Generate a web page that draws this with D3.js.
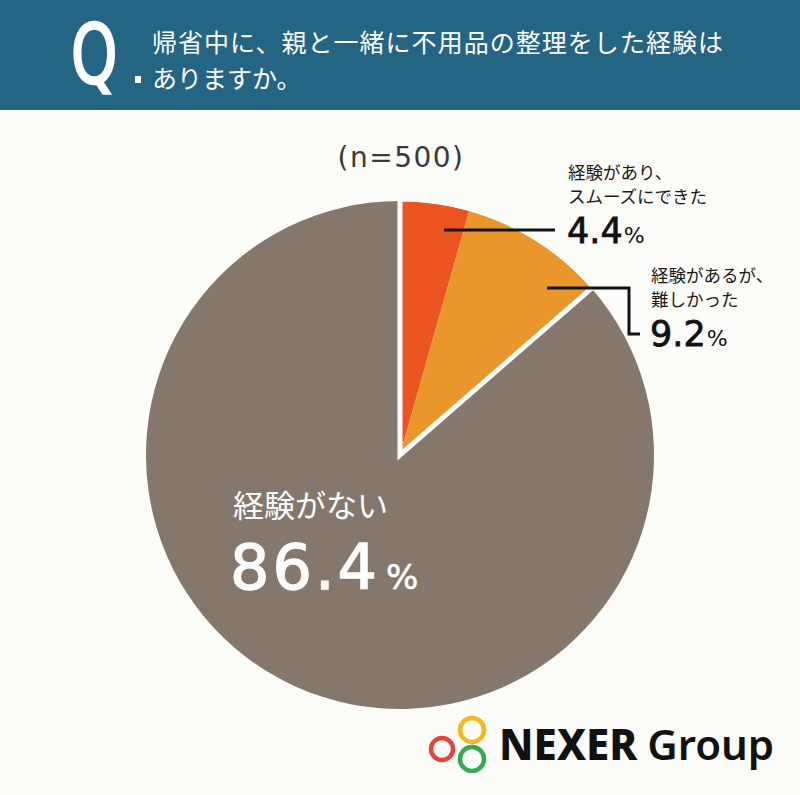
<!DOCTYPE html>
<html>
<head>
<meta charset="utf-8">
<script src="https://cdn.jsdelivr.net/npm/d3@7"></script>
<style>
  html, body { margin: 0; padding: 0; background: #fcfcf8; }
  svg { display: block; }
</style>
</head>
<body>
<script>
// data
const categories = ["経験があり、スムーズにできた", "経験があるが、難しかった", "経験がない"];
const values = [4.4, 9.2, 86.4];
const colors = ["#ec5521", "#e9972b", "#85776c"];
const labelLines = [["経験があり、", "スムーズにできた"], ["経験があるが、", "難しかった"], ["経験がない"]];
const title = ["帰省中に、親と一緒に不用品の整理をした経験は", "ありますか。"];
const sampleNote = "(n=500)";

const W = 800, H = 795;
const cx = 400, cy = 455, R = 254;
const jp = "'Noto Sans CJK JP', sans-serif";
const num = "'DejaVu Sans', sans-serif";

const svg = d3.select("body").append("svg")
  .attr("width", W)
  .attr("height", H);

svg.append("rect").attr("width", W).attr("height", H).attr("fill", "#fcfcf8");

// header band
svg.append("rect").attr("width", W).attr("height", 110).attr("fill", "#246584");
svg.append("text")
  .attr("x", 0).attr("y", 0)
  .attr("font-family", "'DejaVu Sans', sans-serif")
  .attr("font-size", 82)
  .attr("fill", "#fff")
  .attr("stroke", "#fff")
  .attr("stroke-width", 2.5)
  .attr("transform", "translate(71,83) scale(0.72,1)")
  .text("Q");
svg.append("rect").attr("x", 135).attr("y", 76).attr("width", 6).attr("height", 7).attr("fill", "#fff");
svg.selectAll(".title")
  .data(title)
  .enter().append("text")
  .attr("class", "title")
  .attr("x", 152)
  .attr("y", (d, i) => 52 + i * 36)
  .attr("font-family", jp)
  .attr("font-size", 25)
  .attr("fill", "#fff")
  .attr("textLength", (d, i) => i === 0 ? 571 : null)
  .text(d => d);

svg.append("text")
  .attr("x", 401).attr("y", 167)
  .attr("text-anchor", "middle")
  .attr("font-family", num)
  .attr("font-size", 28)
  .attr("letter-spacing", 1.5)
  .attr("fill", "#3a3a3a")
  .text(sampleNote);

// pie
const pie = d3.pie().sort(null).value(d => d);
const arcs = pie(values);
const arc = d3.arc().innerRadius(0).outerRadius(R);
const g = svg.append("g").attr("transform", `translate(${cx},${cy})`);

g.selectAll("path.slice")
  .data(arcs)
  .enter().append("path")
  .attr("class", "slice")
  .attr("d", arc)
  .attr("fill", (d, i) => colors[i]);

// white border around the "experienced" group
const grp = d3.arc().innerRadius(0).outerRadius(R + 2)
  .startAngle(0).endAngle(arcs[1].endAngle);
g.append("path")
  .attr("d", grp())
  .attr("fill", "none")
  .attr("stroke", "#fff")
  .attr("stroke-width", 5)
  .attr("stroke-linejoin", "miter");
g.append("circle").attr("r", R + 3).attr("fill", "none").attr("stroke", "#fcfcf8").attr("stroke-width", 4);

// leader lines
svg.append("path")
  .attr("d", "M444,230H555")
  .attr("stroke", "#111").attr("stroke-width", 3).attr("fill", "none");
svg.append("path")
  .attr("d", "M547,288H629V334H640")
  .attr("stroke", "#111").attr("stroke-width", 3).attr("fill", "none");

function outerLabel(x, y0, i) {
  const t = svg.append("text")
    .attr("x", x).attr("y", y0)
    .attr("fill", "#1a1a1a");
  labelLines[i].forEach((s, k) => {
    t.append("tspan")
      .attr("x", x).attr("dy", k === 0 ? 0 : 24)
      .attr("font-family", jp)
      .attr("font-size", 17.5)
      .text(s);
  });
  t.append("tspan")
    .attr("x", x - 1).attr("dy", 40)
    .attr("font-family", num)
    .attr("font-size", 35)
    .attr("fill", "#111")
    .attr("stroke", "#111")
    .attr("stroke-width", 0.8)
    .text(values[i].toFixed(1));
  t.append("tspan")
    .attr("font-family", num)
    .attr("dx", 1)
    .attr("font-size", 22)
    .attr("fill", "#111")
    .text("%");
}
outerLabel(568, 179, 0);
outerLabel(651, 282, 1);

const inner = svg.append("text")
  .attr("x", 233).attr("y", 517)
  .attr("fill", "#fff");
inner.append("tspan")
  .attr("font-family", jp)
  .attr("font-size", 31)
  .text(labelLines[2][0]);
inner.append("tspan")
  .attr("x", 230).attr("dy", 72)
  .attr("font-family", num)
  .attr("font-size", 62)
  .attr("letter-spacing", 3)
  .attr("stroke", "#fff")
  .attr("stroke-width", 1.4)
  .text(values[2].toFixed(1));
inner.append("tspan")
  .attr("font-family", num)
  .attr("dx", 6)
  .attr("font-size", 34)
  .attr("stroke", "#fff")
  .attr("stroke-width", 0.6)
  .text("%");

// logo
const logo = svg.append("g");
[["#f2b81d", 472, 730, 12], ["#e3453a", 442, 749, 11], ["#36a852", 472, 759, 12]].forEach(c => {
  logo.append("circle")
    .attr("cx", c[1]).attr("cy", c[2]).attr("r", c[3])
    .attr("fill", "none").attr("stroke", c[0]).attr("stroke-width", 4.5);
});
const lt = logo.append("text")
  .attr("x", 499).attr("y", 760)
  .attr("font-family", "'Noto Sans', sans-serif")
  .attr("font-size", 42)
  .attr("fill", "#111");
lt.append("tspan").attr("font-weight", 800).text("NEXER");
lt.append("tspan").attr("font-weight", 600).attr("dx", 10).text("Group");
</script>
</body>
</html>
